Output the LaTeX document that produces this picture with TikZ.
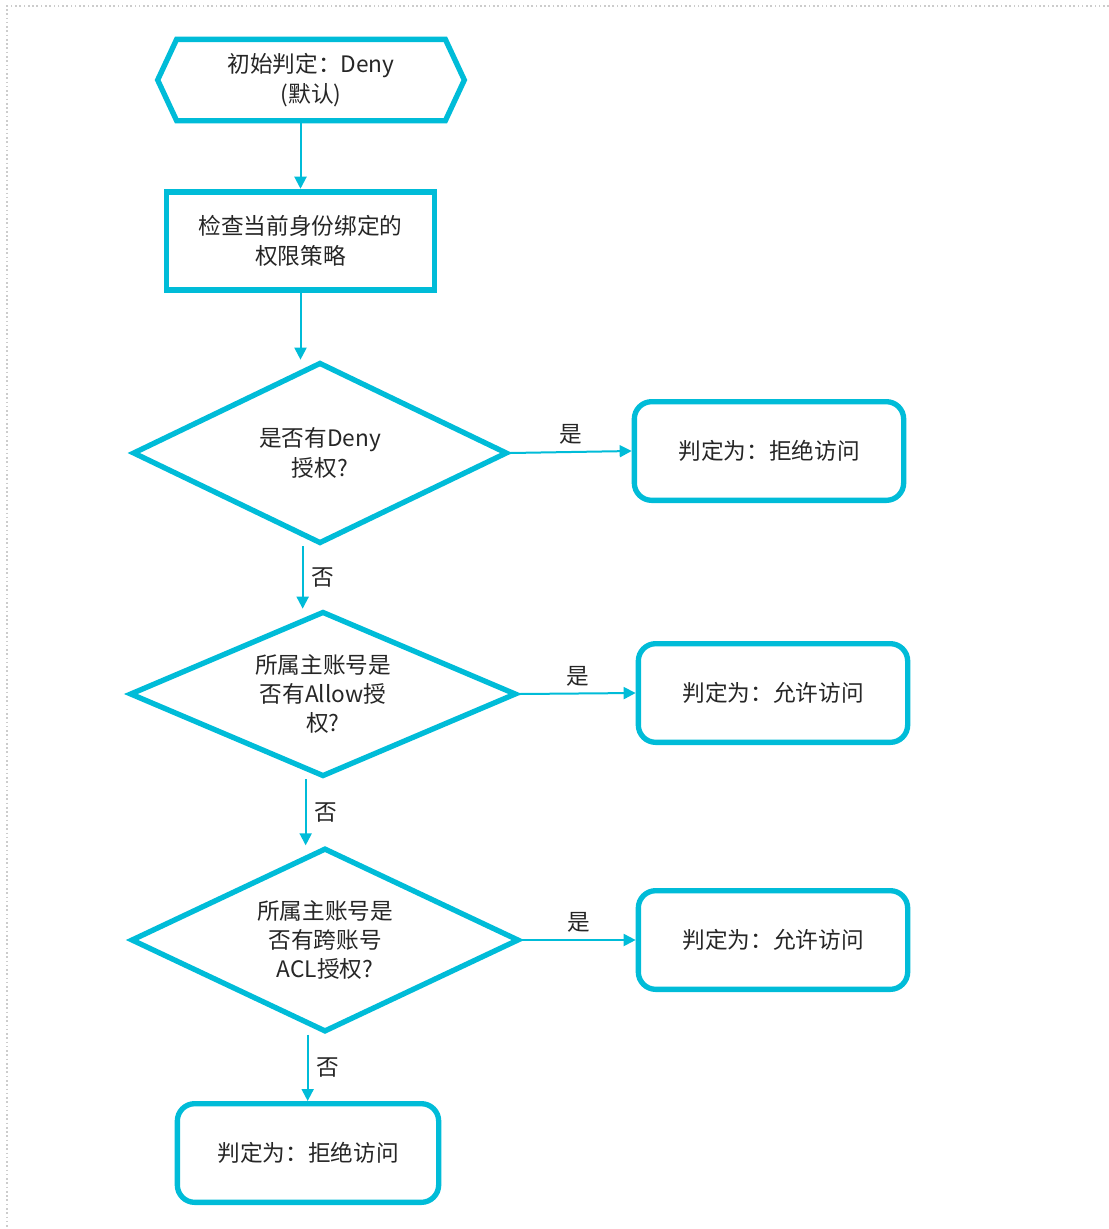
\documentclass[tikz,border=0pt]{standalone}
\usepackage{fontspec}
\setmainfont{Noto Sans CJK SC}
\usetikzlibrary{arrows.meta,shapes.geometric,shapes.symbols}
\definecolor{flowcyan}{RGB}{0,188,216}
\definecolor{flowtext}{RGB}{38,38,38}

\begin{document}
\begin{tikzpicture}[
  x=0.75pt, y=-0.75pt,
  every node/.style={font=\fontsize{17pt}{22pt}\selectfont, text=flowtext},
  hexbox/.style={
    draw=flowcyan,
    line width=4pt,
    signal,
    signal to=west and east,
    signal pointer angle=130,
    minimum width=230pt,
    minimum height=61pt,
    inner sep=0pt,
    align=center
  },
  sqbox/.style={
    draw=flowcyan,
    line width=4.4pt,
    minimum width=201pt,
    minimum height=74pt,
    align=center
  },
  decision/.style={
    draw=flowcyan,
    line width=4pt,
    diamond,
    aspect=2.2,
    inner sep=0pt,
    align=center
  },
  result/.style={
    draw=flowcyan,
    line width=4pt,
    rounded corners=13pt,
    minimum width=202pt,
    minimum height=74pt,
    align=center
  },
  arrow/.style={-{Triangle[length=9pt,width=9pt]}, draw=flowcyan, line width=1.5pt},
  yes/.style={above, inner sep=5pt},
  no/.style={right, inner sep=6pt}
]
\useasboundingbox (0,0) rectangle (1109,1229);
% frame
\draw[gray!40, dotted, line width=1.2pt] (1109,6) -- (7,6) -- (7,1229);

\node[hexbox] (start) at (311,80) {初始判定：Deny\\(默认)};
\node[sqbox] (check) at (300.5,241) {检查当前身份绑定的\\权限策略};

\node[decision, minimum width=281pt, minimum height=136pt] (deny) at (320,453) {是否有Deny\\授权?};
\node[result] (denied1) at (769,451) {判定为：拒绝访问};

\node[decision, minimum width=290pt, minimum height=124pt] (allow) at (323,694) {所属主账号是\\否有Allow授\\权?};
\node[result] (allowed1) at (773,693) {判定为：允许访问};

\node[decision, minimum width=291pt, minimum height=138pt] (acl) at (325,940) {所属主账号是\\否有跨账号\\ACL授权?};
\node[result] (allowed2) at (773,940) {判定为：允许访问};

\node[result, minimum width=196pt] (denied2) at (308,1153) {判定为：拒绝访问};

% vertical flow
\draw[arrow] (start.south -| check) -- (check);
\draw[arrow] (check) -- (check |- deny.north);
\draw[arrow] ([xshift=-13pt]deny.south) -- ([xshift=-13pt]deny.south |- allow.north) node[midway, no] {否};
\draw[arrow] ([xshift=-13pt]allow.south) -- ([xshift=-13pt]allow.south |- acl.north) node[midway, no] {否};
\draw[arrow] ([xshift=-13pt]acl.south) -- ([xshift=-13pt]acl.south |- denied2.north) node[midway, no] {否};

% yes branches
\draw[arrow] (deny.east) -- (denied1.west) node[midway, yes] {是};
\draw[arrow] (allow.east) -- (allowed1.west) node[midway, yes] {是};
\draw[arrow] (acl.east) -- (allowed2.west) node[midway, yes] {是};
\end{tikzpicture}
\end{document}
